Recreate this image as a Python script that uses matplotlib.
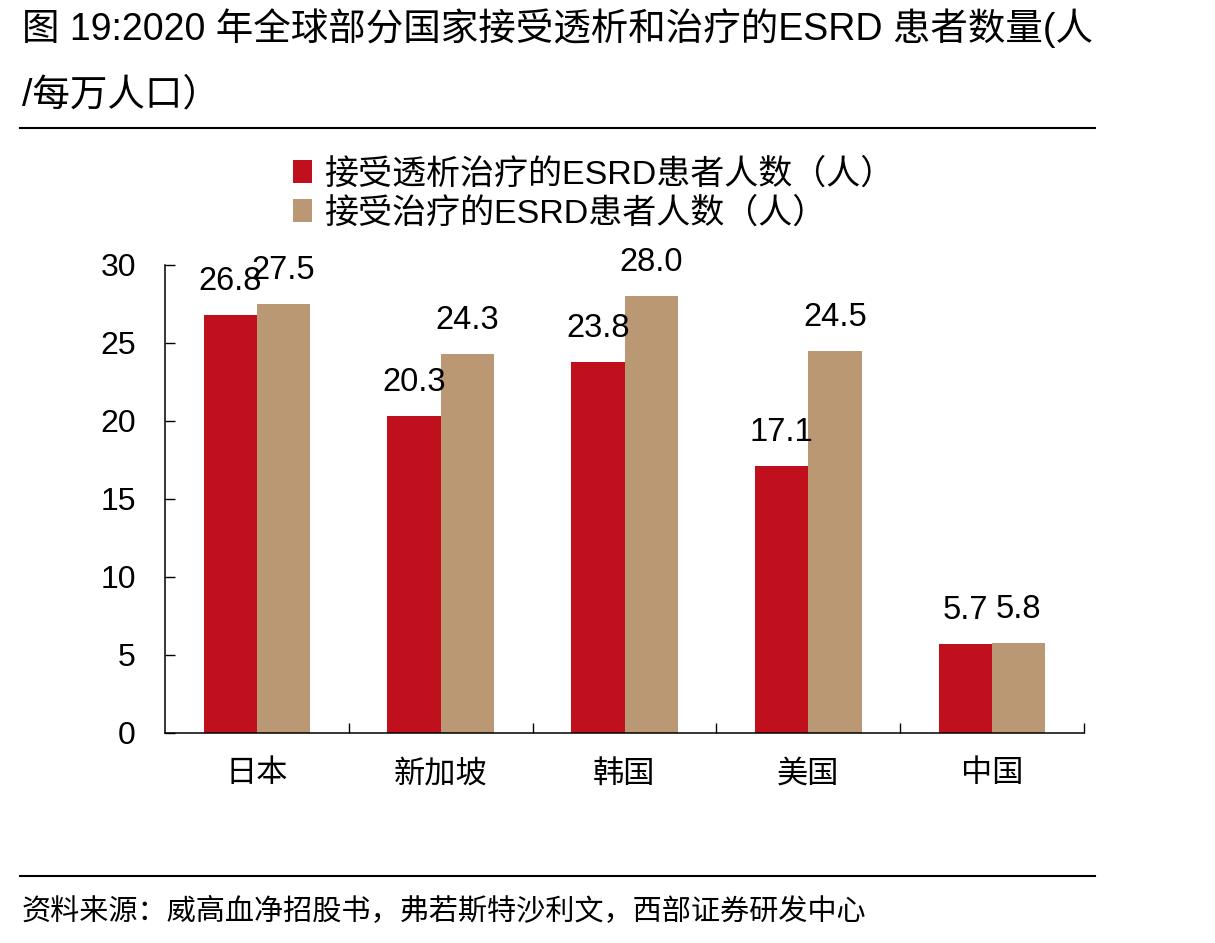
import numpy as np
import matplotlib
matplotlib.use("Agg")
import matplotlib.pyplot as plt
from matplotlib.lines import Line2D

plt.rcParams['font.family'] = ['Liberation Sans', 'Noto Sans CJK SC']

countries = ['日本', '新加坡', '韩国', '美国', '中国']
dialysis = [26.8, 20.3, 23.8, 17.1, 5.7]
treated = [27.5, 24.3, 28.0, 24.5, 5.8]
series_names = ['接受透析治疗的ESRD患者人数（人）', '接受治疗的ESRD患者人数（人）']
colors = ['#C0101E', '#B99873']

fig = plt.figure(figsize=(12.15, 9.43), dpi=100)
ax = fig.add_axes([165 / 1215, 1 - 733 / 943, (1084 - 165) / 1215, (733 - 265) / 943])

x = np.arange(len(countries))
w = 0.29
b1 = ax.bar(x - w / 2, dialysis, w, color=colors[0], label=series_names[0])
b2 = ax.bar(x + w / 2, treated, w, color=colors[1], label=series_names[1])

# 数值标签（日本两个标签在原图中也是重叠的）
for bars, vals in [(b1, dialysis), (b2, treated)]:
    for r, v in zip(bars, vals):
        ax.annotate(f'{v:.1f}', (r.get_x() + r.get_width() / 2, v),
                    xytext=(0, 18), textcoords='offset points',
                    ha='center', va='baseline', fontsize=23.5)

ax.set_xlim(-0.5, len(countries) - 0.5)
ax.set_ylim(0, 30)
ax.set_yticks(range(0, 31, 5))
ax.tick_params(axis='y', direction='in', length=7, width=1, labelsize=23, pad=21)
ax.set_xticks(x)
ax.set_xticklabels(countries, fontsize=22.5)
ax.tick_params(axis='x', which='major', length=0, pad=19)
ax.set_xticks(list(x[1:] - 0.5) + [len(countries) - 0.5], minor=True)
ax.tick_params(axis='x', which='minor', direction='in', length=7, width=1)
for s in ['top', 'right']:
    ax.spines[s].set_visible(False)
for s in ['left', 'bottom']:
    ax.spines[s].set_linewidth(1.1)

ax.legend(loc='upper left', bbox_to_anchor=(293 / 1215, 1 - 158 / 943),
          bbox_transform=fig.transFigure, frameon=False, fontsize=24.5,
          handlelength=0.55, handleheight=0.65, handletextpad=0.35,
          labelspacing=0.2, borderpad=0, borderaxespad=0)

# 标题
fig.text(22 / 1215, 1 - 28 / 943, '图 19:2020 年全球部分国家接受透析和治疗的ESRD 患者数量(人',
         fontsize=27, va='center', ha='left')
fig.text(22 / 1215, 1 - 95 / 943, '/每万人口）', fontsize=27, va='center', ha='left')
fig.add_artist(Line2D([20 / 1215, 1095 / 1215], [1 - 128 / 943] * 2, color='black', lw=1.5))
fig.add_artist(Line2D([20 / 1215, 1095 / 1215], [1 - 876 / 943] * 2, color='black', lw=1.5))
fig.text(22 / 1215, 1 - 912 / 943, '资料来源：威高血净招股书，弗若斯特沙利文，西部证券研发中心',
         fontsize=21, va='center', ha='left')

fig.savefig('out.png', dpi=100)
